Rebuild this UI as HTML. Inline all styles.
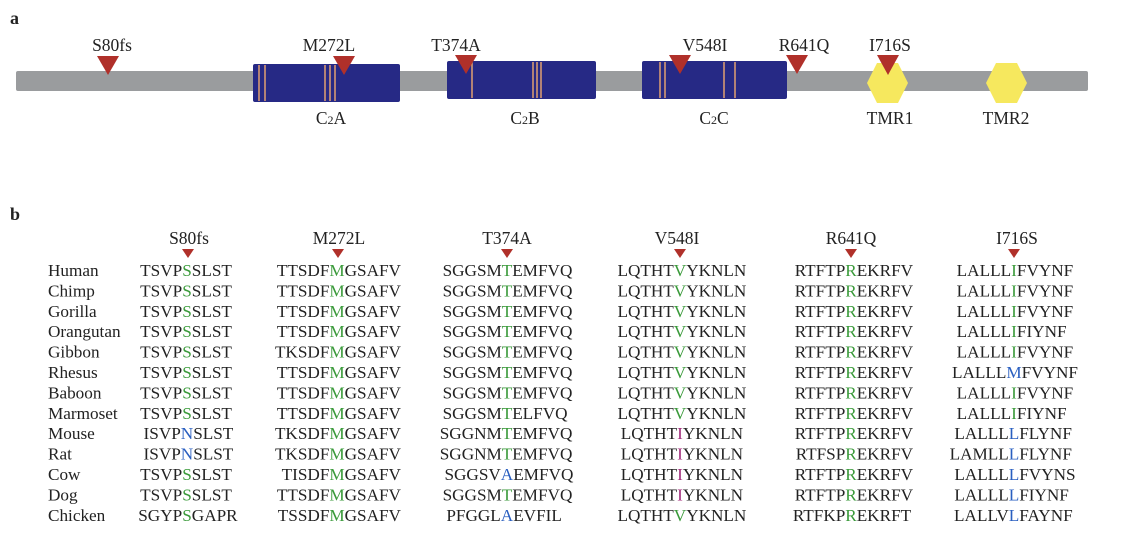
<!DOCTYPE html>
<html><head><meta charset="utf-8"><style>body{margin:0;background:#fff}svg{display:block}text{font-family:"Liberation Serif",serif;fill:#222}</style></head><body>
<svg width="1126" height="540" viewBox="0 0 1126 540">
<text x="10" y="24" font-size="18" font-weight="bold">a</text>
<text x="10" y="220" font-size="18" font-weight="bold">b</text>
<rect x="16" y="71" width="1072" height="20" fill="#9a9c9e" rx="2"/>
<g fill="#262985">
<rect x="253" y="64" width="147" height="38" rx="2"/>
<rect x="447" y="61" width="149" height="38" rx="2"/>
<rect x="642" y="61" width="145" height="38" rx="2"/>
</g>
<g stroke="#e0a070" stroke-width="1.5">
<line x1="259" y1="65" x2="259" y2="101"/><line x1="265" y1="65" x2="265" y2="101"/>
<line x1="325" y1="65" x2="325" y2="101"/><line x1="330" y1="65" x2="330" y2="101"/><line x1="335" y1="65" x2="335" y2="101"/>
<line x1="472" y1="62" x2="472" y2="98"/>
<line x1="533" y1="62" x2="533" y2="98"/><line x1="537" y1="62" x2="537" y2="98"/><line x1="541" y1="62" x2="541" y2="98"/>
<line x1="660" y1="62" x2="660" y2="98"/><line x1="665" y1="62" x2="665" y2="98"/>
<line x1="724" y1="62" x2="724" y2="98"/><line x1="735" y1="62" x2="735" y2="98"/>
</g>
<g fill="#f6e85e">
<polygon points="867,83 877,63 898,63 908,83 898,103 877,103"/>
<polygon points="986,83 996,63 1017,63 1027,83 1017,103 996,103"/>
</g>
<g fill="#b0302a">
<polygon points="97,56 119,56 108,75"/>
<polygon points="333,56 355,56 344,75"/>
<polygon points="455,55 477,55 466,74"/>
<polygon points="669,55 691,55 680,74"/>
<polygon points="786,55 808,55 797,74"/>
<polygon points="877,55 899,55 888,75"/>
</g>
<g font-size="17.5" text-anchor="middle">
<text x="112" y="51">S80fs</text><text x="329" y="51">M272L</text><text x="456" y="51">T374A</text>
<text x="705" y="51">V548I</text><text x="804" y="51">R641Q</text><text x="890" y="51">I716S</text>
<text x="331" y="124">C<tspan font-size="12">2</tspan>A</text>
<text x="525" y="124">C<tspan font-size="12">2</tspan>B</text>
<text x="714" y="124">C<tspan font-size="12">2</tspan>C</text>
<text x="890" y="124">TMR1</text><text x="1006" y="124">TMR2</text>
<text x="189" y="244">S80fs</text><text x="339" y="244">M272L</text><text x="507" y="244">T374A</text>
<text x="677" y="244">V548I</text><text x="851" y="244">R641Q</text><text x="1017" y="244">I716S</text>
</g>
<g fill="#b0302a">
<polygon points="182,249 194,249 188,258"/><polygon points="332,249 344,249 338,258"/>
<polygon points="501,249 513,249 507,258"/><polygon points="674,249 686,249 680,258"/>
<polygon points="845,249 857,249 851,258"/><polygon points="1008,249 1020,249 1014,258"/>
</g>
<g id="b" font-size="17.2"></g>
</svg>
<script>
const sp=["Human","Chimp","Gorilla","Orangutan","Gibbon","Rhesus","Baboon","Marmoset","Mouse","Rat","Cow","Dog","Chicken"];
const cols=[
[187,["TSVP","S","SLST"],[["TSVP","S","SLST"],["TSVP","S","SLST"],["TSVP","S","SLST"],["TSVP","S","SLST"],["TSVP","S","SLST"],["TSVP","S","SLST"],["TSVP","S","SLST"],["TSVP","S","SLST"],["ISVP","N","SLST","b"],["ISVP","N","SLST","b"],["TSVP","S","SLST"],["TSVP","S","SLST"],["SGYP","S","GAPR"]]],
[337,null,[["TTSDF","M","GSAFV"],["TTSDF","M","GSAFV"],["TTSDF","M","GSAFV"],["TTSDF","M","GSAFV"],["TKSDF","M","GSAFV"],["TTSDF","M","GSAFV"],["TTSDF","M","GSAFV"],["TTSDF","M","GSAFV"],["TKSDF","M","GSAFV"],["TKSDF","M","GSAFV"],["TISDF","M","GSAFV"],["TTSDF","M","GSAFV"],["TSSDF","M","GSAFV"]]],
[507,null,[["SGGSM","T","EMFVQ"],["SGGSM","T","EMFVQ"],["SGGSM","T","EMFVQ"],["SGGSM","T","EMFVQ"],["SGGSM","T","EMFVQ"],["SGGSM","T","EMFVQ"],["SGGSM","T","EMFVQ"],["SGGSM","T","ELFVQ"],["SGGNM","T","EMFVQ"],["SGGNM","T","EMFVQ"],["SGGSV","A","EMFVQ","b"],["SGGSM","T","EMFVQ"],["PFGGL","A","EVFIL","b"]]],
[680,null,[["LQTHT","V","YKNLN"],["LQTHT","V","YKNLN"],["LQTHT","V","YKNLN"],["LQTHT","V","YKNLN"],["LQTHT","V","YKNLN"],["LQTHT","V","YKNLN"],["LQTHT","V","YKNLN"],["LQTHT","V","YKNLN"],["LQTHT","I","YKNLN","m"],["LQTHT","I","YKNLN","m"],["LQTHT","I","YKNLN","m"],["LQTHT","I","YKNLN","m"],["LQTHT","V","YKNLN"]]],
[851,null,[["RTFTP","R","EKRFV"],["RTFTP","R","EKRFV"],["RTFTP","R","EKRFV"],["RTFTP","R","EKRFV"],["RTFTP","R","EKRFV"],["RTFTP","R","EKRFV"],["RTFTP","R","EKRFV"],["RTFTP","R","EKRFV"],["RTFTP","R","EKRFV"],["RTFSP","R","EKRFV"],["RTFTP","R","EKRFV"],["RTFTP","R","EKRFV"],["RTFKP","R","EKRFT"]]],
[1014,null,[["LALLL","I","FVYNF"],["LALLL","I","FVYNF"],["LALLL","I","FVYNF"],["LALLL","I","FIYNF"],["LALLL","I","FVYNF"],["LALLL","M","FVYNF","b"],["LALLL","I","FVYNF"],["LALLL","I","FIYNF"],["LALLL","L","FLYNF","b"],["LAMLL","L","FLYNF","b"],["LALLL","L","FVYNS","b"],["LALLL","L","FIYNF","b"],["LALLV","L","FAYNF","b"]]]];
const hw={S:4.8,M:7.6,T:5.2,V:6.2,I:2.9,R:5.7,N:6.2,A:6.2,L:5.2};
const col={g:"#3a9a3a",b:"#2a5fc0",m:"#a02a7a"};
let h="";
sp.forEach((s,i)=>{const y=276+i*20.4;h+=`<text x="48" y="${y}">${s}</text>`;
cols.forEach(c=>{const r=c[2][i];const x=c[0];const w=hw[r[1]]||5;const f=col[r[3]||"g"];
h+=`<text x="${x-w}" y="${y}" text-anchor="end">${r[0]}</text><text x="${x}" y="${y}" text-anchor="middle" style="fill:${f}">${r[1]}</text><text x="${x+w}" y="${y}">${r[2]}</text>`;});});
document.getElementById("b").innerHTML=h;
</script>
</body></html>
